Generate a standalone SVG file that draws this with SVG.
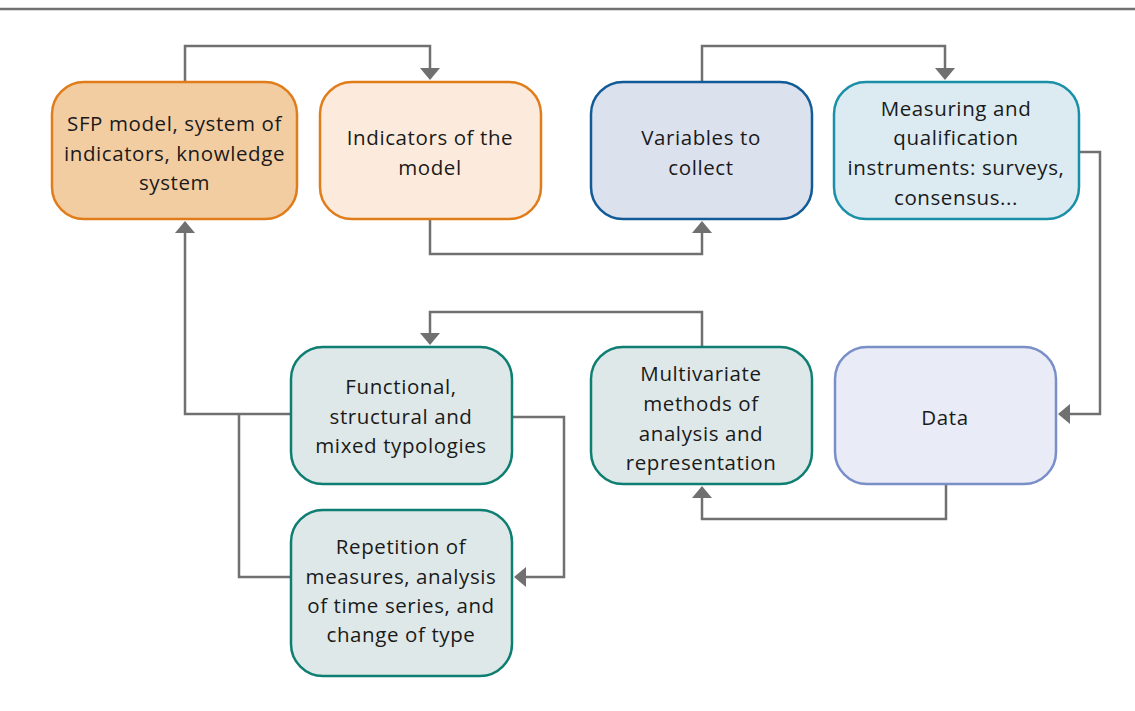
<svg xmlns="http://www.w3.org/2000/svg" width="1135" height="711" viewBox="0 0 1135 711">
<style>
.bg{fill:#ffffff}
.rule{stroke:#707070;stroke-width:2.5;fill:none}
.conn{stroke:#707070;stroke-width:2.5;fill:none}
.box{stroke-width:2.5}
.orange{stroke:#e07d1a}
.sfp{fill:#f3cda2}
.ind{fill:#fcebdc}
.var{fill:#dce1ee;stroke:#125b96}
.meas{fill:#dcebf2;stroke:#1a8fa8}
.teal{fill:#dfe8e8;stroke:#0f7e72}
.data{fill:#e9ebf7;stroke:#7a8fc8}
text{font-family:"Open Sans","Liberation Sans",sans-serif;font-size:20.5px;fill:#1a1a1a;text-anchor:middle;dominant-baseline:central;letter-spacing:0.6px}
</style>
<defs>
<marker id="ah" viewBox="0 0 12 20" refX="8" refY="10" markerWidth="12" markerHeight="20" markerUnits="userSpaceOnUse" orient="auto">
<path d="M0,0 L12,10 L0,20 z" fill="#707070"/>
</marker>
</defs>
<rect class="bg" x="0" y="0" width="1135" height="711"/>
<line class="rule" x1="0" y1="9" x2="1135" y2="9"/>
<g id="connectors">
<path class="conn" d="M185,82 V46 H430 V76" marker-end="url(#ah)"/>
<path class="conn" d="M430,219 V254 H702 V225" marker-end="url(#ah)"/>
<path class="conn" d="M702,82 V46 H945 V76" marker-end="url(#ah)"/>
<path class="conn" d="M1078,152 H1100 V414 H1062" marker-end="url(#ah)"/>
<path class="conn" d="M946,484 V519 H702 V490" marker-end="url(#ah)"/>
<path class="conn" d="M702,347 V312 H430 V341" marker-end="url(#ah)"/>
<path class="conn" d="M291,414 H185 V225" marker-end="url(#ah)"/>
<path class="conn" d="M239,414 V577 H291"/>
<path class="conn" d="M512,417 H564 V577 H518" marker-end="url(#ah)"/>
</g>
<g id="sfp">
<rect class="box orange sfp" x="52" y="82" width="245" height="137" rx="32"/>
<text x="174.5" y="123">SFP model, system of</text>
<text x="174.5" y="153">indicators, knowledge</text>
<text x="174.5" y="182">system</text>
</g>
<g id="indicators">
<rect class="box orange ind" x="320" y="82" width="221" height="137" rx="32"/>
<text x="430" y="137">Indicators of the</text>
<text x="430" y="167">model</text>
</g>
<g id="variables">
<rect class="box var" x="591" y="82" width="221" height="137" rx="32"/>
<text x="701" y="137">Variables to</text>
<text x="701" y="167">collect</text>
</g>
<g id="measuring">
<rect class="box meas" x="834" y="82" width="245" height="137" rx="32"/>
<text x="956" y="108">Measuring and</text>
<text x="956" y="137">qualification</text>
<text x="956" y="167">instruments: surveys,</text>
<text x="956" y="197">consensus...</text>
</g>
<g id="functional">
<rect class="box teal" x="291" y="347" width="221" height="137" rx="32"/>
<text x="401" y="386">Functional,</text>
<text x="401" y="416">structural and</text>
<text x="401" y="445">mixed typologies</text>
</g>
<g id="multivariate">
<rect class="box teal" x="591" y="347" width="221" height="137" rx="32"/>
<text x="701" y="373">Multivariate</text>
<text x="701" y="403">methods of</text>
<text x="701" y="433">analysis and</text>
<text x="701" y="462">representation</text>
</g>
<g id="data">
<rect class="box data" x="835" y="347" width="221" height="137" rx="32"/>
<text x="945" y="417">Data</text>
</g>
<g id="repetition">
<rect class="box teal" x="291" y="510" width="221" height="166" rx="32"/>
<text x="401" y="546">Repetition of</text>
<text x="401" y="576">measures, analysis</text>
<text x="401" y="605">of time series, and</text>
<text x="401" y="634">change of type</text>
</g>
</svg>
